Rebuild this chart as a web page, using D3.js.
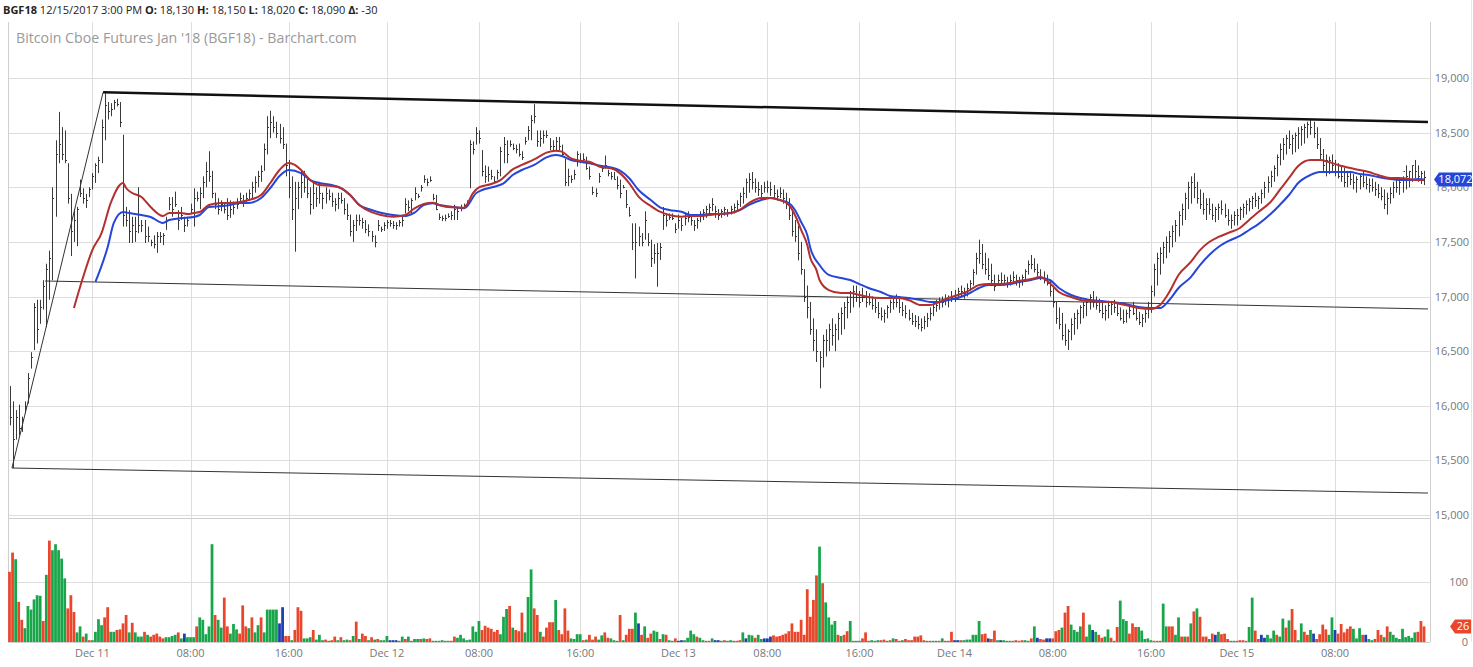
<!DOCTYPE html>
<html><head><meta charset="utf-8">
<script src="https://cdn.jsdelivr.net/npm/d3@7"></script>
<style>body{margin:0;background:#fff}svg{display:block;font-family:"Open Sans",sans-serif}</style>
</head><body><svg id="c" width="1473" height="667"></svg>
<script>
// ---------------- DATA (15-minute bars) ----------------
const hi = [
16180,16040,15960,16010,15900,16040,16300,16490,16940,16970,
16970,17150,17300,17420,18000,18430,18690,18550,18520,18220,
17940,17800,17820,18070,17990,17940,18000,18130,18220,18280,
18620,18860,18780,18770,18800,18810,18780,18480,17820,17790,
17730,17730,18000,17700,17700,17640,17520,17560,17590,17590,
17580,17730,17910,17910,17960,17790,17820,17730,17730,17850,
17990,17960,18000,18100,18230,18330,18150,17950,17900,17880,
17850,17900,17880,17870,17900,17950,17930,17950,17980,18050,
18100,18150,18200,18400,18650,18700,18650,18600,18580,18550,
18400,18250,18100,18050,18050,18150,18150,18100,18000,18050,
18000,18050,17950,18000,17980,17950,17900,17950,17950,17900,
17850,17750,17700,17750,17750,17720,17700,17660,17600,17560,
17700,17640,17680,17700,17700,17690,17680,17700,17730,17900,
17880,17900,18000,17940,18020,18110,18080,18100,17940,17930,
17760,17740,17750,17760,17780,17840,17810,17840,17850,17880,
18430,18420,18550,18520,18340,18200,18190,18160,18100,18160,
18370,18460,18430,18430,18400,18390,18400,18330,18460,18560,
18660,18760,18520,18520,18520,18520,18450,18430,18460,18460,
18390,18260,18170,18110,18160,18330,18310,18310,18280,18190,
18005,17990,18130,18200,18290,18160,18140,18140,18100,18070,
18020,17975,17820,17670,17670,17640,17580,17780,17580,17520,
17480,17490,17490,17820,17760,17760,17760,17670,17750,17720,
17760,17780,17750,17700,17720,17780,17800,17830,17850,17900,
17830,17800,17800,17820,17800,17830,17850,17880,17950,18000,
18080,18130,18140,18080,18050,18020,18050,18060,18050,18020,
17980,18000,17980,17950,17900,17800,17700,17650,17500,17250,
17100,16950,16800,16700,16500,16650,16700,16750,16800,16750,
16850,16900,16950,17000,17050,17100,17100,17050,17080,17050,
17030,17000,16980,16950,16900,16880,16920,16970,17000,17020,
16980,16950,16920,16880,16850,16830,16820,16800,16820,16850,
16900,16950,16970,16990,17000,17020,17010,17050,17060,17080,
17100,17080,17120,17150,17250,17400,17520,17480,17400,17350,
17300,17200,17200,17220,17200,17180,17200,17230,17200,17180,
17200,17250,17330,17380,17350,17300,17250,17230,17200,17150,
17100,16950,16900,16850,16750,16700,16800,16850,16880,16920,
16950,16980,17020,17050,17000,16980,16950,16920,16950,16960,
16970,16950,16900,16880,16880,16920,16950,16900,16860,16840,
16880,16950,17100,17300,17400,17450,17500,17550,17600,17650,
17700,17780,17850,17950,18050,18100,18130,18050,17980,17950,
17900,17900,17850,17820,17850,17880,17850,17800,17750,17780,
17800,17820,17850,17880,17900,17920,17950,17920,17980,18050,
18100,18150,18200,18300,18400,18450,18480,18520,18480,18500,
18550,18560,18580,18600,18620,18600,18550,18450,18350,18300,
18280,18300,18250,18220,18200,18180,18150,18150,18120,18100,
18120,18150,18100,18080,18080,18050,18030,18000,17980,17950,
18000,18050,18080,18060,18100,18200,18150,18200,18250,18200,
18150,18150];
const lo = [
15820,15430,15690,15730,15760,15930,16020,16340,16510,16570,
16750,16880,16720,16970,17150,17730,18220,18250,18220,17850,
17370,17500,17460,17910,17850,17810,17910,17980,18040,18130,
18220,18430,18620,18650,18710,18740,18550,17640,17640,17490,
17490,17500,17580,17590,17490,17500,17460,17440,17400,17490,
17470,17610,17790,17730,17820,17610,17700,17590,17640,17760,
17640,17870,17800,17900,18000,18050,17900,17800,17750,17780,
17760,17700,17720,17750,17800,17850,17820,17850,17880,17900,
17950,18000,18050,18150,18300,18450,18500,18450,18400,18350,
18100,17900,17700,17410,17800,17900,17950,17900,17750,17800,
17820,17850,17800,17850,17880,17820,17780,17800,17850,17750,
17700,17550,17500,17600,17650,17620,17580,17550,17500,17450,
17600,17590,17600,17620,17640,17620,17610,17640,17640,17760,
17780,17760,17880,17900,17960,18040,18010,18050,17880,17790,
17700,17690,17690,17720,17700,17700,17700,17780,17810,17840,
17990,18300,18390,18400,18100,18040,18050,18070,18040,18070,
18100,18220,18220,18370,18340,18310,18280,18250,18390,18430,
18430,18585,18370,18370,18400,18450,18340,18330,18330,18340,
18280,18010,18010,18040,18070,18190,18220,18220,18160,18070,
17930,17910,18040,18140,18170,18100,18070,18070,17980,17900,
17990,17810,17730,17425,17165,17460,17460,17520,17460,17270,
17300,17090,17335,17610,17640,17700,17700,17580,17620,17600,
17650,17680,17650,17600,17620,17680,17700,17720,17750,17780,
17720,17700,17720,17740,17730,17750,17760,17780,17820,17850,
17900,17950,17980,17950,17920,17900,17950,17950,17920,17900,
17880,17900,17850,17800,17700,17550,17500,17330,17200,16950,
16800,16650,16500,16400,16160,16350,16450,16500,16550,16500,
16600,16650,16700,16800,16850,16900,16950,16900,16950,16900,
16920,16880,16850,16800,16780,16760,16800,16850,16880,16900,
16850,16820,16800,16780,16740,16720,16700,16680,16700,16720,
16780,16820,16860,16880,16900,16920,16900,16950,16950,16980,
17000,16980,17000,17050,17100,17200,17300,17250,17200,17150,
17100,17050,17100,17120,17100,17080,17100,17120,17100,17080,
17100,17150,17200,17250,17220,17180,17150,17120,17100,17000,
16900,16750,16700,16600,16550,16510,16600,16650,16700,16750,
16800,16820,16880,16900,16880,16850,16800,16780,16800,16830,
16850,16820,16780,16750,16760,16800,16830,16780,16740,16720,
16760,16800,16850,17000,17100,17200,17300,17350,17400,17450,
17500,17550,17650,17700,17800,17850,17900,17850,17800,17750,
17700,17750,17700,17680,17700,17750,17720,17650,17620,17650,
17650,17700,17720,17750,17780,17800,17820,17800,17850,17900,
17950,18000,18050,18100,18200,18250,18300,18350,18300,18320,
18350,18380,18400,18450,18480,18450,18350,18250,18150,18100,
18120,18150,18100,18080,18050,18000,18000,18020,17980,17950,
17980,18000,17980,17950,17960,17920,17900,17880,17800,17750,
17850,17900,17950,17930,17950,17980,18000,18050,18080,18050,
18030,18020];
const cl = [
15900,15700,15900,15800,15880,16000,16250,16450,16900,16700,
16900,17100,17250,17350,17900,18300,18400,18300,18250,17900,
17600,17700,17800,17950,17900,17880,17980,18100,18200,18250,
18550,18750,18700,18720,18780,18760,18600,17750,17700,17600,
17650,17600,17650,17650,17550,17550,17500,17480,17550,17550,
17560,17700,17850,17800,17850,17700,17750,17650,17700,17800,
17900,17900,17950,18050,18150,18100,17950,17850,17800,17850,
17800,17750,17800,17820,17850,17900,17880,17900,17950,18000,
18050,18100,18150,18350,18550,18600,18550,18500,18450,18400,
18200,18000,17800,17900,18000,18050,18000,17950,17850,17950,
17900,17950,17900,17950,17920,17870,17850,17900,17880,17800,
17750,17600,17650,17700,17700,17680,17620,17600,17550,17500,
17650,17620,17650,17680,17670,17650,17650,17680,17700,17850,
17820,17880,17950,17920,18000,18080,18050,18070,17900,17800,
17730,17720,17720,17740,17750,17800,17780,17820,17840,17860,
18400,18350,18500,18450,18150,18100,18120,18100,18060,18140,
18330,18400,18300,18400,18360,18350,18300,18280,18420,18520,
18620,18650,18420,18450,18480,18480,18380,18380,18420,18380,
18300,18050,18100,18080,18120,18300,18250,18260,18180,18100,
17960,17950,18100,18180,18200,18130,18100,18080,18020,17950,
18000,17850,17750,17500,17500,17550,17500,17700,17500,17350,
17400,17400,17450,17750,17700,17730,17720,17620,17700,17650,
17720,17730,17700,17650,17700,17750,17770,17800,17820,17850,
17780,17750,17780,17800,17770,17800,17820,17850,17920,17950,
18050,18080,18050,18000,17980,17950,18000,18000,17980,17950,
17920,17950,17900,17850,17750,17600,17550,17400,17250,17000,
16900,16700,16600,16500,16450,16600,16600,16700,16650,16700,
16800,16850,16900,16950,17000,17050,17000,16950,17000,16950,
16950,16920,16900,16850,16820,16850,16900,16950,16950,16950,
16900,16880,16850,16800,16780,16780,16750,16720,16780,16800,
16850,16900,16920,16950,16950,16970,16980,17000,17000,17050,
17050,17030,17080,17120,17220,17350,17400,17300,17250,17200,
17150,17100,17150,17150,17150,17120,17150,17180,17150,17130,
17180,17230,17300,17300,17250,17220,17180,17150,17120,17050,
16950,16800,16750,16650,16600,16680,16750,16800,16850,16900,
16920,16950,17000,16950,16920,16880,16850,16880,16920,16930,
16900,16850,16800,16780,16850,16880,16850,16800,16770,16800,
16850,16900,17050,17250,17350,17400,17450,17500,17550,17600,
17650,17750,17800,17900,18000,18050,18000,17900,17850,17800,
17850,17800,17750,17800,17820,17800,17750,17700,17700,17750,
17750,17800,17820,17850,17870,17900,17880,17900,17950,18000,
18050,18100,18180,18280,18350,18400,18450,18400,18450,18480,
18500,18530,18550,18580,18550,18500,18400,18300,18200,18250,
18250,18200,18150,18100,18100,18050,18100,18080,18050,18080,
18100,18050,18030,18020,18000,17980,17950,17920,17850,17900,
17950,18000,18000,18050,18150,18100,18150,18200,18150,18100,
18130,18090];
const vol = [
117,149,138,67,37,23,60,54,71,78, 77,35,112,169,153,163,153,139,106,56,
78,50,16,26,9,14,3,3,17,38, 28,41,58,17,17,20,21,31,45,16,
32,16,9,9,17,12,9,12,14,9, 6,8,8,10,12,16,6,14,8,8,
8,26,41,37,13,26,163,45,37,24, 74,26,14,30,21,14,61,26,23,41,
16,28,41,16,54,54,54,54,31,58, 10,10,3,20,58,52,6,6,8,20,
4,12,3,4,2,3,9,3,8,3, 4,3,10,34,5,14,10,3,8,4,
5,3,3,10,3,3,3,
2,9,5,9,2,5,5,5,6,5, 6,2,2,2,3,2,2,2,9,7, 12,6,3,4,26,17,35,
20,27,24,22,17,20,13,42,55,60, 24,20,18,49,16,75,121,56,45,17, 9,24,33,33,70,20,13,56,19,6, 5,13,
13,3,4,12,4,9,4,11,16,7, 6,3,2,45,3,12,22,22,49,31, 12,26,7,14,19,17,5,13,12,3, 2,6,
2,3,3,7,19,13,9,7,3,2, 2,6,3,3,2,3,2,3,2,2, 3,16,6,12,11,7,12,5,
6,6,9,11,9,10,12,14,18,31, 17,17,37,12,88,42,70,111,159,98, 66,41,29,35,12,10,12,18,35,2, 2,2,
6,16,2,3,2,3,3,4,2,3, 6,5,2,3,5,3,3,9,
9,11,3,2,2,2,2,2,6,2, 2,17,
3,3,3,3,4,4,12,12,35,13, 14,6,5,19,3,3,3,2,2,2, 3,2,3,3,2,6,26,7,5,4, 6,6,
6,18,20,24,49,60,29,20,17,26, 49,9,29,20,17,12,7,9,21,7, 2,25,69,38,35,14,31,25,25,19, 5,6,
3,2,2,2,64,26,26,26,12,41, 9,9,9,31,51,56,42,9,9,5, 14,12,17,13,14,5,2,2,
2,3,3,2,25,74,19,5,12,7, 12,6,19,12,9,39,24,36,55,20, 3,31,17,12,20,14,5,13,29,21, 12,41,
20,14,30,16,22,26,22,6,23,12, 12,5,3,5,20,12,8,26,17,12, 7,5,22,8,10,7,16,17,35,26];
// volume bar colour: g = up, r = down, b = unchanged
const volDir = (
"rrgrrggggg"+"grgrgggggr"+"rrggrgrggg"+"grrggrrrrg"+"rgggrgrrrr"+"rggggrgbgg"+
"grgggggrgg"+"rrgggrrrgr"+"ggrgggggbb"+"rrgrrrgggr"+"gggrgrrgrg"+"grgrgrrgrg"+"rgggbbb"+
"ggrgrggrgr"+"rgggggrrrg"+"ggggggg"+
"rrrrrrgggr"+"grrrgggrrg"+"rrrrgrrrrg"+"gg"+
"grgrrrggrr"+"gggrgrrrgb"+"rgrrggrgrg"+"gr"+
"bbggggrggr"+"rgbbgrgggr"+"rgbggrgg"+
"bbbrrrrrrr"+"rrrrrrrrgr"+"ggggrgrrgg"+"gg"+
"rrrgrgrrgr"+"grrgrrrr"+
"rrrgrggrgr"+"rr"+
"bbrggggggr"+"rbrrgbgggr"+"rrrggrgbrr"+"bb"+
"rrrgrrgggg"+"rggbgrrggr"+"grgggrrrgg"+"gg"+
"grrrggrrgg"+"rgrgrgrrrg"+"rbgrrrgg"+
"rrrrggrrbb"+"gggrggrgrr"+"ggrrgbrrrr"+"gg"+
"brrrrrgggr"+"bggrrrgrgg"+"gggggggrrr").split("");

// moving-average lines: bar index -> value
const maRedIdx = [21,24,27,30,33,37,38,40,43,46,50,52,56,58,60,62,65,69,72,75,78,82,85,88,91,93,95,98,101,105,108,111,114,118,121,125,129,132,135,138,140,144,148,149,151,153,157,160,164,167,171,175,178,180,183,186,189,193,196,199,202,205,209,212,215,219,222,225,228,231,235,238,241,245,248,251,254,256,258,260,261,263,264,267,271,274,277,280,284,287,290,293,297,300,303,306,310,313,316,319,323,326,329,333,336,339,342,346,349,352,356,359,362,365,368,372,375,378,381,385,388,391,394,398,401,404,407,411,414,417,420,424,427,430,433,437,440,443,446,450,453,456,459,461];
const maRed = [16895,17178,17425,17581,17856,18039,17993,17947,17911,17819,17737,17764,17764,17755,17764,17773,17837,17856,17856,17865,17883,17929,18039,18158,18222,18204,18158,18066,18020,18011,17993,17929,17838,17773,17746,17731,17746,17807,17847,17859,17838,17816,17813,17838,17944,17999,18030,18066,18164,18204,18255,18317,18335,18326,18265,18243,18234,18182,18173,18127,18036,17914,17828,17776,17746,17731,17737,17737,17746,17755,17764,17792,17856,17902,17902,17883,17838,17746,17609,17471,17352,17242,17151,17059,17032,17032,17014,16995,16986,16986,16986,16968,16922,16922,16950,16986,17023,17059,17105,17114,17114,17123,17142,17160,17178,17123,17041,16995,16968,16959,16950,16950,16931,16913,16895,16886,16922,17041,17197,17316,17425,17499,17545,17590,17627,17700,17773,17865,17975,18085,18194,18249,18249,18231,18204,18176,18158,18139,18112,18085,18085,18075,18066,18066];
const maBlueIdx = [28,32,34,37,39,43,46,50,52,56,60,62,65,69,72,75,78,82,85,88,91,95,98,101,105,108,111,114,118,121,125,129,132,135,138,140,144,148,149,152,154,158,161,164,167,171,175,178,180,183,186,189,193,196,199,202,205,209,212,215,219,222,225,228,231,235,238,241,245,248,251,254,256,258,260,261,264,267,271,274,277,280,284,287,290,293,297,300,303,306,310,313,316,319,323,326,329,333,336,339,342,346,349,352,356,359,362,365,368,372,375,378,381,385,388,391,394,398,401,404,407,411,414,417,420,424,427,430,433,437,440,443,446,450,453,456,459,461];
const maBlue = [17133,17453,17673,17773,17764,17746,17728,17673,17700,17718,17728,17746,17819,17828,17838,17856,17856,17902,17993,18103,18158,18130,18066,18039,18020,17993,17929,17838,17792,17767,17746,17737,17767,17838,17853,17838,17822,17807,17822,17944,17975,18005,18036,18112,18158,18204,18274,18295,18286,18249,18234,18219,18194,18182,18152,18082,17975,17883,17816,17792,17776,17746,17746,17755,17755,17764,17792,17838,17883,17902,17883,17856,17792,17682,17563,17444,17288,17197,17169,17151,17114,17078,17041,17005,16995,16986,16968,16950,16950,16968,16995,17032,17078,17105,17105,17114,17133,17151,17169,17151,17078,17014,16986,16968,16959,16950,16940,16922,16904,16895,16895,16968,17078,17178,17288,17380,17453,17517,17554,17609,17663,17755,17838,17929,18039,18112,18139,18139,18139,18139,18121,18112,18094,18075,18066,18066,18075,18072];

const tickIdx    = [27, 59, 91, 123, 153, 186, 218, 247, 277, 308, 340, 372, 400, 432];
const tickLabels = ["Dec 11","08:00","16:00","Dec 12","08:00","16:00","Dec 13","08:00","16:00","Dec 14","08:00","16:00","Dec 15","08:00"];
const priceTicks = [15000,15500,16000,16500,17000,17500,18000,18500,19000];
const volTicks   = [0, 100];
// drawn trend lines: [barIndex, price] endpoints
const trendThick = [[30.5, 18869], [462.3, 18597]];
const trendThin  = [
  [[0.8, 15430], [30.5, 18869]],
  [[11.6, 17142], [462.3, 16886]],
  [[0.8, 15430], [462.3, 15201]]];
const lastMA = 18072, lastVol = 26;
const header = [["BGF18",1],[" 12/15/2017 3:00 PM ",0],["O:",1],[" 18,130 ",0],["H:",1],[" 18,150 ",0],
                ["L:",1],[" 18,020 ",0],["C:",1],[" 18,090 ",0],["Δ:",1],[" -30",0]];
const title = "Bitcoin Cboe Futures Jan '18 (BGF18) - Barchart.com";

// ---------------- DRAWING ----------------
const svg = d3.select("#c");
const N = hi.length;
const L = 8, R = 1430, PT = 22, PB = 518, VB = 642;
const x = d3.scaleLinear().domain([0, N - 1]).range([9.5, 1424]);
const y = d3.scaleLinear().domain([15000, 19000]).range([515, 78]);
const yv = d3.scaleLinear().domain([0, 100]).range([VB, 582]);

svg.append("rect").attr("width", 1473).attr("height", 667).attr("fill", "#fff");
svg.append("defs").append("clipPath").attr("id", "pc").append("rect")
  .attr("x", L).attr("y", PT).attr("width", R - L).attr("height", PB - PT);

const grid = svg.append("g").attr("stroke", "#dedede").attr("stroke-width", 1);
priceTicks.forEach(p => grid.append("line").attr("x1", L).attr("x2", R)
  .attr("y1", Math.round(y(p)) + .5).attr("y2", Math.round(y(p)) + .5));
grid.append("line").attr("x1", L).attr("x2", R).attr("y1", Math.round(yv(100)) + .5).attr("y2", Math.round(yv(100)) + .5);
tickIdx.forEach(i => grid.append("line").attr("x1", Math.round(x(i)) + .5).attr("x2", Math.round(x(i)) + .5)
  .attr("y1", PT).attr("y2", VB));

// frames
const fr = svg.append("g").attr("stroke", "#cfcfcf").attr("fill", "none");
fr.append("line").attr("x1", L + .5).attr("x2", L + .5).attr("y1", PT).attr("y2", VB);
fr.append("line").attr("x1", R + .5).attr("x2", R + .5).attr("y1", PT).attr("y2", VB);
fr.append("line").attr("x1", L).attr("x2", R).attr("y1", PB + .5).attr("y2", PB + .5);
fr.append("line").attr("x1", L).attr("x2", R).attr("y1", VB + .5).attr("y2", VB + .5);
fr.append("line").attr("x1", 1471.5).attr("x2", 1471.5).attr("y1", 0).attr("y2", VB).attr("stroke", "#e6e6e6");

// title
svg.append("text").attr("x", 16).attr("y", 43).attr("font-size", 14.2).attr("fill", "#9a9a9a").text(title);

// header
const ht = svg.append("text").attr("x", 3).attr("y", 14).attr("font-size", 11).attr("fill", "#222");
header.forEach(([t, b]) => ht.append("tspan").attr("font-weight", b ? 700 : 400).text(t));

// volume bars
const vw = (x(1) - x(0)) * 0.9;
const vcol = {g: "#19a64b", r: "#e9462b", b: "#1d3fb0"};
svg.append("g").selectAll("rect").data(vol).join("rect")
  .attr("x", (d, i) => x(i) - vw / 2).attr("width", vw)
  .attr("y", d => yv(d)).attr("height", d => VB - yv(d))
  .attr("fill", (d, i) => vcol[volDir[i]]);

// price bars (high-low-close)
const pb = svg.append("g").attr("clip-path", "url(#pc)").attr("stroke", "#3a3a3a").attr("stroke-width", 1);
pb.selectAll("line.hl").data(hi).join("line").attr("class", "hl")
  .attr("x1", (d, i) => Math.round(x(i)) + .5).attr("x2", (d, i) => Math.round(x(i)) + .5)
  .attr("y1", d => y(d)).attr("y2", (d, i) => y(lo[i]));
pb.selectAll("line.c").data(cl).join("line").attr("class", "c")
  .attr("x1", (d, i) => Math.round(x(i)) + .5).attr("x2", (d, i) => Math.round(x(i)) + 2)
  .attr("y1", d => Math.round(y(d)) + .5).attr("y2", d => Math.round(y(d)) + .5);

// trend lines
const tl = d3.line().x(d => x(d[0])).y(d => y(d[1]));
const tg = svg.append("g").attr("clip-path", "url(#pc)").attr("fill", "none");
trendThin.forEach(s => tg.append("path").attr("d", tl(s)).attr("stroke", "#333").attr("stroke-width", 1));
tg.append("path").attr("d", tl(trendThick)).attr("stroke", "#111").attr("stroke-width", 2.5);

// moving averages
const ml = d3.line().x(d => x(d[0])).y(d => y(d[1])).curve(d3.curveMonotoneX);
tg.append("path").attr("d", ml(d3.zip(maBlueIdx, maBlue))).attr("stroke", "#2546d8").attr("stroke-width", 2);
tg.append("path").attr("d", ml(d3.zip(maRedIdx, maRed))).attr("stroke", "#b3302e").attr("stroke-width", 2);

// axes
const ax = svg.append("g").attr("font-size", 11).attr("fill", "#777").attr("text-anchor", "end");
priceTicks.forEach(p => ax.append("text").attr("x", 1469).attr("y", y(p) + 4).text(d3.format(",")(p)));
volTicks.forEach(v => ax.append("text").attr("x", 1468).attr("y", yv(v) + 4).text(v));
const xa = svg.append("g").attr("font-size", 11).attr("fill", "#777").attr("text-anchor", "middle");
tickIdx.forEach((i, k) => xa.append("text").attr("x", x(i)).attr("y", 657).text(tickLabels[k]));

// last value tags
function tag(yy, w, col, txt, x0) {
  const g = svg.append("g");
  g.append("path").attr("d", `M${x0},${yy} l5,-7 h${w} v14 h-${w} z`).attr("fill", col);
  g.append("text").attr("x", x0 + 5 + w / 2).attr("y", yy + 4).attr("fill", "#fff")
    .attr("font-size", 11).attr("text-anchor", "middle").text(txt);
}
tag(y(lastMA), 33, "#2546d8", d3.format(",")(lastMA), 1434);
tag(yv(lastVol), 16, "#e9462b", lastVol, 1450);
</script></body></html>
